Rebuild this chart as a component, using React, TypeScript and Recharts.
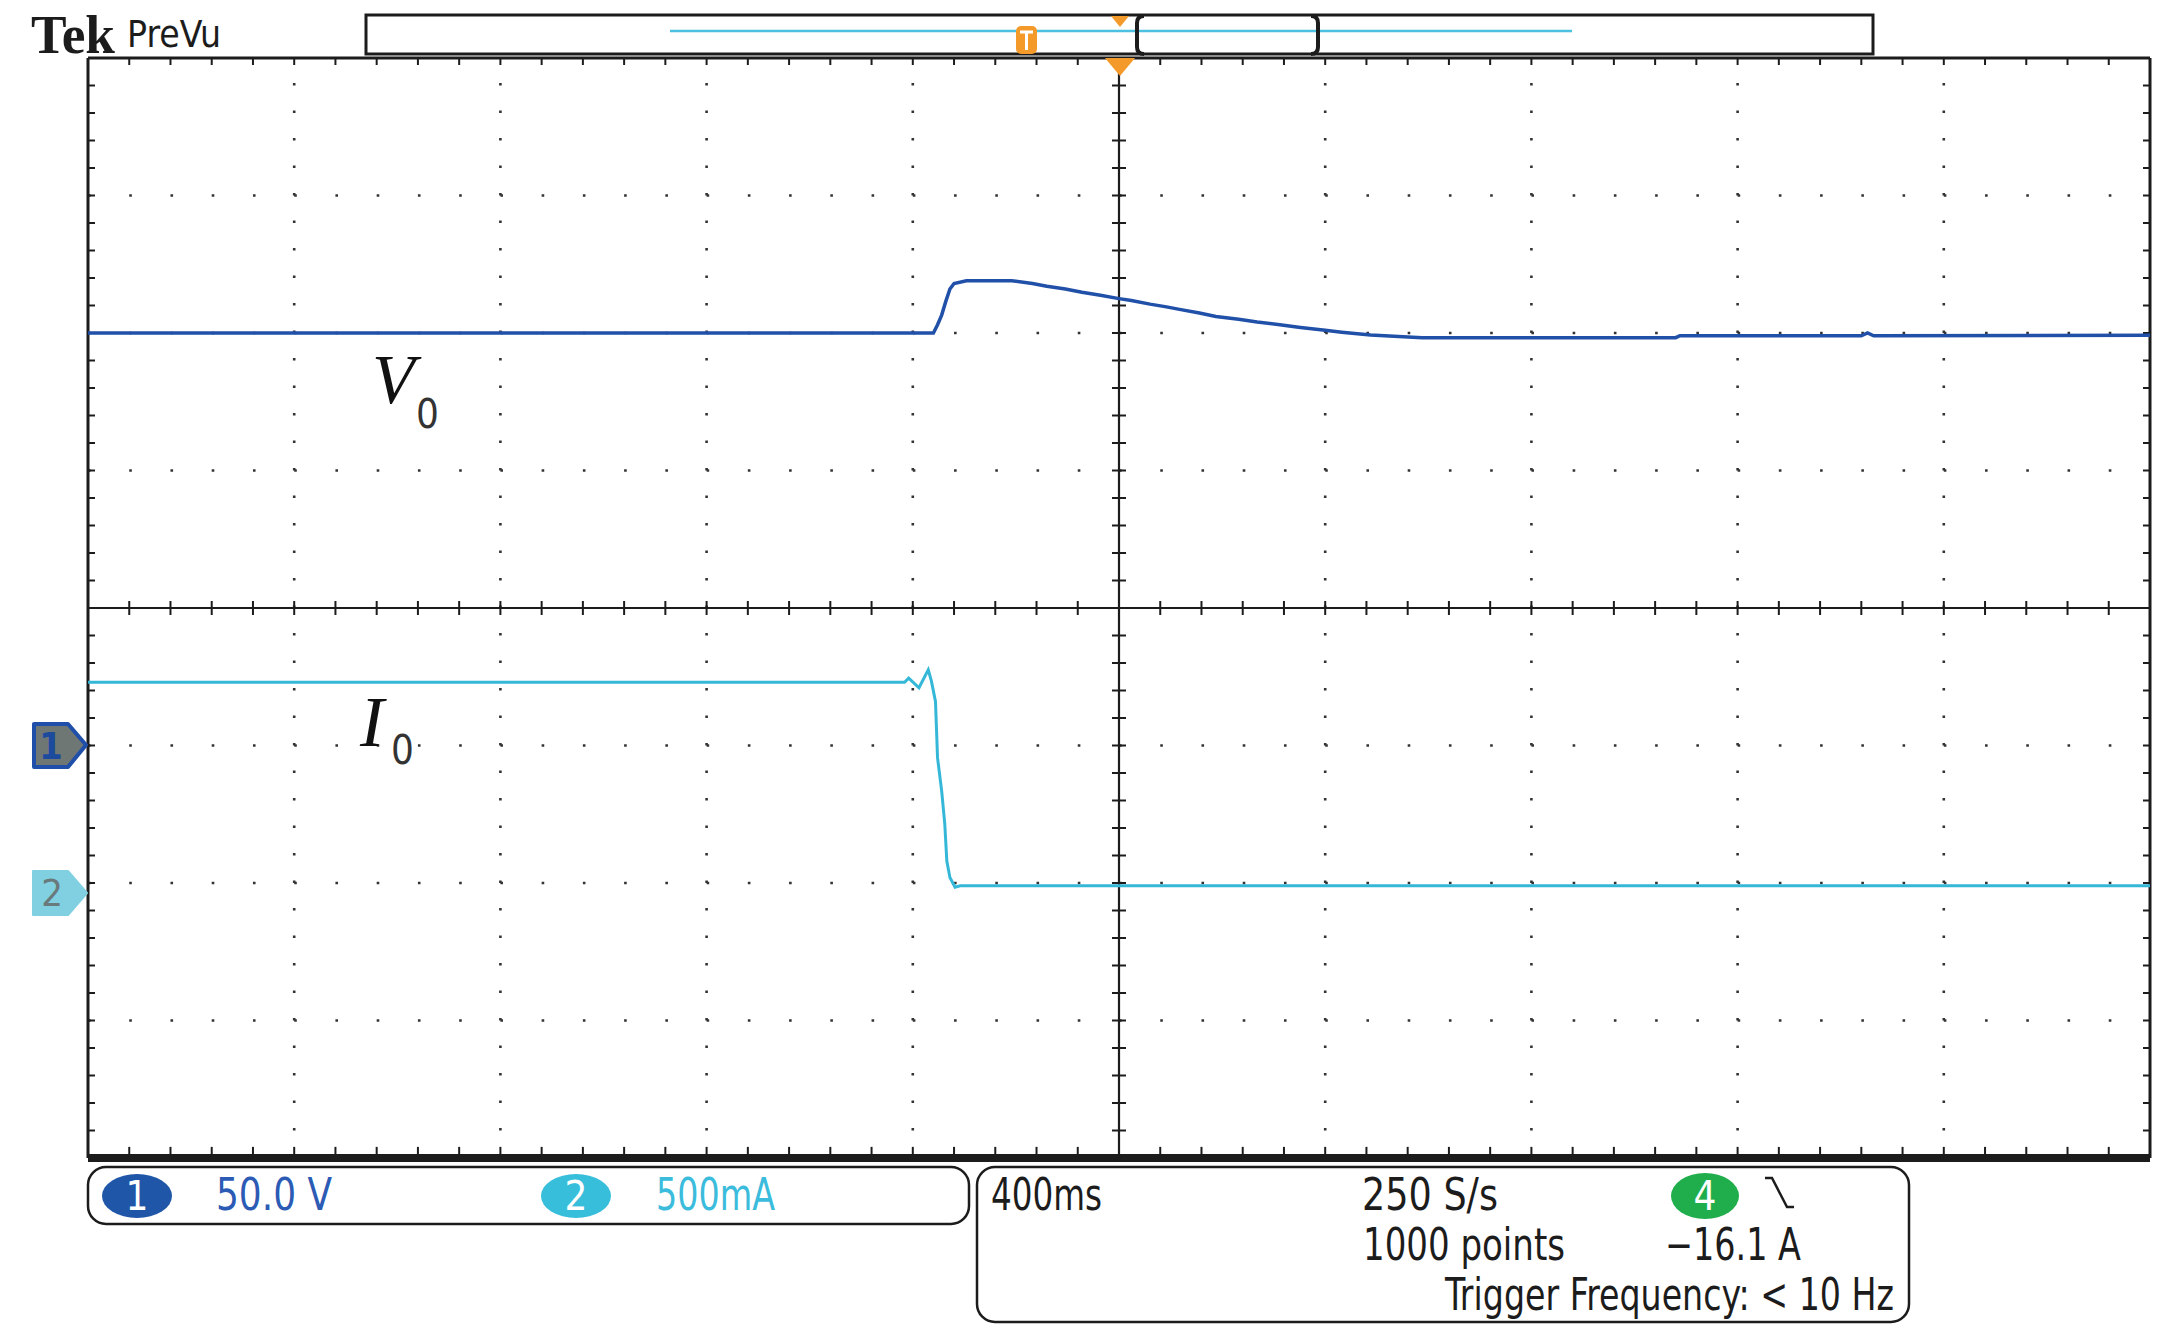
import React from 'react';
import { LineChart, Line, XAxis, YAxis, ReferenceLine } from 'recharts';

const W = 2166;
const H = 1334;
const MARGIN = { top: 58, right: 16, bottom: 176, left: 88 };

// Horizontal: 400 ms/div, trigger (t = 0) at screen centre
const X_MIN = -2000;
const X_MAX = 2000;
// Vertical: screen divisions, 0 = centre
const Y_MIN = -4;
const Y_MAX = 4;

// Channel 1 (V0): 50.0 V/div, ground marker at -1 div
const CH1_VOLTS_PER_DIV = 50;
const CH1_POSITION = -1;
// Channel 2 (I0): 500 mA/div, ground marker at -2 div
const CH2_AMPS_PER_DIV = 0.5;
const CH2_POSITION = -2;

// V0 trace (time in ms, voltage in V)
const v0Time = [
  -2000, -360, -352, -344, -336, -328, -320, -296, -208, -168, -140, -104, -72, -36, 0, 24, 60, 92,
  120, 156, 188, 232, 268, 312, 352, 400, 432, 488, 588, 1080, 1088, 1440, 1452, 1464, 2000,
];
const v0Volts = [
  150, 150, 153, 156.5, 161.5, 166, 168, 169, 169, 168, 167, 166, 164.8, 163.7, 162.5, 161.8, 160.5,
  159.5, 158.5, 157.3, 156, 155, 154, 153, 152, 151, 150.3, 149.3, 148.3, 148.3, 149, 149, 150, 149, 149.2,
];

// I0 trace (time in ms, current in A)
const i0Time = [
  -2000, -416, -408, -388, -370, -364, -356, -352, -344, -338, -334, -328, -318, -308, 2000,
];
const i0Amps = [
  0.73, 0.73, 0.745, 0.71, 0.775, 0.735, 0.66, 0.455, 0.335, 0.215, 0.08, 0.02, -0.015, -0.01, -0.01,
];

// Graticule
const majorX = [-1600, -1200, -800, -400, 400, 800, 1200, 1600];
const majorY = [-3, -2, -1, 1, 2, 3];
const minorX = Array.from({ length: 49 }, (_, i) => X_MIN + 80 * (i + 1));
const minorY = Array.from({ length: 39 }, (_, i) => Y_MIN + 0.2 * (i + 1));

const v0Data = v0Time.map((t, i) => ({ t, v: v0Volts[i] / CH1_VOLTS_PER_DIV + CH1_POSITION }));
const i0Data = i0Time.map((t, i) => ({ t, v: i0Amps[i] / CH2_AMPS_PER_DIV + CH2_POSITION }));

const PX_PER_MS = (W - MARGIN.left - MARGIN.right) / (X_MAX - X_MIN);
const PX_PER_DIV = (H - MARGIN.top - MARGIN.bottom) / (Y_MAX - Y_MIN);
const TX = 7 / PX_PER_MS;
const TY = 7 / PX_PER_DIV;

const INK = '#1c1c1c';
const GRID = '#333';
const CH1 = '#2150a8';
const CH2 = '#35b8d8';
const ORANGE = '#f39a2b';
const FONT = "'Liberation Sans Narrow', 'DejaVu Sans Condensed', 'DejaVu Sans', sans-serif";

function tickSegs() {
  const segs: { key: string; seg: { x: number; y: number }[] }[] = [];
  minorX.forEach((x, i) => {
    segs.push({ key: `tt${i}`, seg: [{ x, y: Y_MAX }, { x, y: Y_MAX - TY }] });
    segs.push({ key: `tb${i}`, seg: [{ x, y: Y_MIN }, { x, y: Y_MIN + TY + 0.03 }] });
    segs.push({ key: `tc${i}`, seg: [{ x, y: -TY }, { x, y: TY }] });
  });
  minorY.forEach((y, i) => {
    segs.push({ key: `tl${i}`, seg: [{ x: X_MIN, y }, { x: X_MIN + TX, y }] });
    segs.push({ key: `tr${i}`, seg: [{ x: X_MAX, y }, { x: X_MAX - TX, y }] });
    segs.push({ key: `tm${i}`, seg: [{ x: -TX, y }, { x: TX, y }] });
  });
  return segs;
}

function T(props: { x: number; y: number; w: number; size?: number; fill?: string; anchor?: string; children: React.ReactNode }) {
  const { x, y, w, size = 44, fill = INK, anchor = 'start', children } = props;
  return (
    <text x={x} y={y} fontFamily={FONT} fontSize={size} fill={fill} textAnchor={anchor}
      textLength={w} lengthAdjust="spacingAndGlyphs">{children}</text>
  );
}

function Overlay() {
  return (
    <svg
      width={W}
      height={H}
      style={{ position: 'absolute', left: 0, top: 0, pointerEvents: 'none' }}
    >
      {/* Header */}
      <text x={31} y={53} fontFamily="'Liberation Serif', serif" fontWeight="bold" fontSize={54}
        textLength={84} lengthAdjust="spacingAndGlyphs" fill={INK}>Tek</text>
      <T x={127} y={47} w={94} size={37}>PreVu</T>

      {/* Record view bar */}
      <rect x={366} y={15} width={1507} height={39} fill="#fff" stroke={INK} strokeWidth={3} />
      <line x1={670} y1={31} x2={1572} y2={31} stroke="#4cc0e0" strokeWidth={2.5} />
      <path d="M1144 16 Q1137 16 1137 23 L1137 47 Q1137 54 1144 54" fill="none" stroke={INK} strokeWidth={4} />
      <path d="M1311 16 Q1318 16 1318 23 L1318 47 Q1318 54 1311 54" fill="none" stroke={INK} strokeWidth={4} />
      <polygon points="1111,16 1129,16 1120,27" fill={ORANGE} />
      <rect x={1016} y={26} width={21} height={28} rx={5} fill={ORANGE} />
      <path d="M1020 32 L1033 32 M1026.5 32 L1026.5 50" stroke="#fff" strokeWidth={3} fill="none" />

      {/* Trigger position marker */}
      <polygon points="1105,58 1135,58 1120,76" fill={ORANGE} />

      {/* Channel ground markers */}
      <path d="M34 724 L68 724 L86 745 L68 767 L34 767 Z" fill="#6f7775" stroke="#1f4fa8"
        strokeWidth={4} strokeLinejoin="round" />
      <text x={51} y={759} textAnchor="middle" fontFamily={FONT} fontWeight="bold" fontSize={38} fill="#1c4a9c">1</text>
      <path d="M33 871 L68 871 L87 893 L68 915 L33 915 Z" fill="#80d0e2" stroke="#80d0e2"
        strokeWidth={2} strokeLinejoin="round" />
      <text x={52} y={906} textAnchor="middle" fontFamily={FONT} fontSize={38} fill="#6a797b">2</text>

      {/* Trace labels */}
      <text x={372} y={403} fontFamily="'Liberation Serif', serif" fontStyle="italic" fontSize={70} fill="#111">V</text>
      <text x={416} y={428} fontFamily={FONT} fontSize={40} fill="#333">0</text>
      <text x={360} y={746} fontFamily="'Liberation Serif', serif" fontStyle="italic" fontSize={72} fill="#111">I</text>
      <text x={391} y={764} fontFamily={FONT} fontSize={40} fill="#333">0</text>

      {/* Channel readout box */}
      <rect x={88} y={1167} width={881} height={57} rx={18} fill="none" stroke={INK} strokeWidth={2.5} />
      <ellipse cx={137} cy={1196} rx={35} ry={22} fill="#1f56a8" />
      <text x={137} y={1210} textAnchor="middle" fontFamily={FONT} fontSize={40} fill="#fff">1</text>
      <T x={216} y={1210} w={116} fill="#2c5bb5">50.0 V</T>
      <ellipse cx={576} cy={1196} rx={35} ry={22} fill="#37bedb" />
      <text x={576} y={1210} textAnchor="middle" fontFamily={FONT} fontSize={40} fill="#fff">2</text>
      <T x={656} y={1210} w={119} fill="#3bbcdc">500mA</T>

      {/* Timebase / trigger box */}
      <rect x={977} y={1167} width={932} height={155} rx={18} fill="none" stroke={INK} strokeWidth={2.5} />
      <T x={991} y={1210} w={111}>400ms</T>
      <T x={1362} y={1210} w={136}>250 S/s</T>
      <ellipse cx={1705} cy={1196} rx={34} ry={23} fill="#1fae4b" />
      <text x={1705} y={1210} textAnchor="middle" fontFamily={FONT} fontSize={40} fill="#fff">4</text>
      <path d="M1765 1178 L1772 1178 L1787 1207 L1794 1207" fill="none" stroke={INK} strokeWidth={2.5} />
      <T x={1363} y={1260} w={202}>1000 points</T>
      <T x={1665} y={1260} w={136}>−16.1 A</T>
      <T x={1894} y={1310} w={449} anchor="end">Trigger Frequency: &lt; 10 Hz</T>
    </svg>
  );
}

export default function App() {
  const segs = tickSegs();
  return (
    <div style={{ position: 'absolute', left: 0, top: 0, width: W, height: H, background: '#fff', overflow: 'hidden' }}>
      <LineChart width={W} height={H} margin={MARGIN}>
        <XAxis type="number" dataKey="t" domain={[X_MIN, X_MAX]} hide allowDataOverflow />
        <YAxis type="number" domain={[Y_MIN, Y_MAX]} hide allowDataOverflow />

        {majorX.map((x) => (
          <ReferenceLine key={`gx${x}`} x={x} stroke={GRID} strokeWidth={2.6} strokeDasharray="2.6 24.9" />
        ))}
        {majorY.map((y) => (
          <ReferenceLine key={`gy${y}`} y={y} stroke={GRID} strokeWidth={2.6} strokeDasharray="2.6 38.64" />
        ))}

        <ReferenceLine x={0} stroke={INK} strokeWidth={2.2} />
        <ReferenceLine y={0} stroke={INK} strokeWidth={2.2} />

        {segs.map((s) => (
          <ReferenceLine key={s.key} segment={s.seg} stroke={INK} strokeWidth={2} />
        ))}

        <ReferenceLine x={X_MIN} stroke={INK} strokeWidth={3} />
        <ReferenceLine x={X_MAX} stroke={INK} strokeWidth={3} />
        <ReferenceLine y={Y_MAX} stroke={INK} strokeWidth={3} />
        <ReferenceLine y={Y_MIN} stroke={INK} strokeWidth={8} />

        <Line data={v0Data} dataKey="v" type="linear" stroke={CH1} strokeWidth={3.5}
          dot={false} activeDot={false} isAnimationActive={false} />
        <Line data={i0Data} dataKey="v" type="linear" stroke={CH2} strokeWidth={3}
          dot={false} activeDot={false} isAnimationActive={false} />
      </LineChart>
      <Overlay />
    </div>
  );
}
